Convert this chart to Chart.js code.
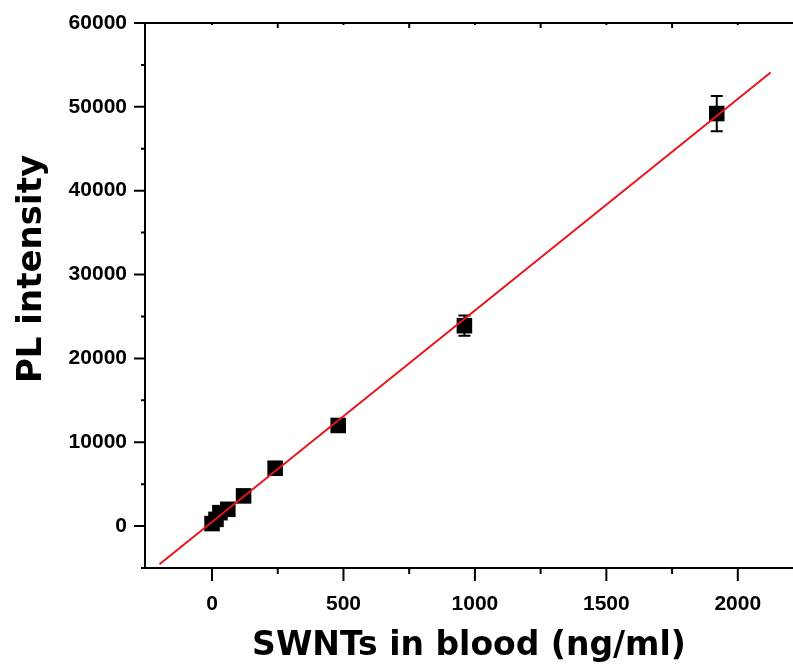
<!DOCTYPE html>
<html>
<head>
<meta charset="utf-8">
<script src="https://cdn.jsdelivr.net/npm/chart.js@4"></script>
<style>
  body { margin: 0; background: #fff; }
  #wrap { width: 793px; height: 669px; position: relative; }
</style>
</head>
<body>
<div id="wrap"><canvas id="plChart"></canvas></div>
<script>
// SWNT concentration (ng/ml) vs PL intensity
const concentration = [0, 15, 30, 60, 120, 240, 480, 960, 1920];
const plIntensity = [300, 800, 1600, 2000, 3600, 6900, 12000, 23900, 49200];
const plError = [200, 300, 300, 400, 500, 500, 400, 1200, 2100];

// linear fit, end points
const fitX = [-200, 2125];
const fitY = [-4550, 54100];

const xMajor = [0, 500, 1000, 1500, 2000];
const xMinor = [250, 750, 1250, 1750];
const yMajor = [0, 10000, 20000, 30000, 40000, 50000, 60000];
const yMinor = [-5000, 5000, 15000, 25000, 35000, 45000, 55000];

const xTitle = "SWNTs in blood (ng/ml)";
const yTitle = "PL intensity";

const tickFont = { family: "'Liberation Sans', Arial, sans-serif", size: 21, weight: "bold" };
const titleFont = { family: "'DejaVu Sans', sans-serif", size: 33, weight: "bold" };

// frame, tick marks, error bars, y title
const framePlugin = {
  id: "frame",
  beforeDatasetsDraw(chart) {
    const ctx = chart.ctx;
    const xs = chart.scales.x, ys = chart.scales.y;
    ctx.save();
    ctx.strokeStyle = "#000";
    ctx.lineWidth = 2;
    concentration.forEach((c, i) => {
      const px = xs.getPixelForValue(c);
      const top = ys.getPixelForValue(plIntensity[i] + plError[i]);
      const bot = ys.getPixelForValue(plIntensity[i] - plError[i]);
      ctx.beginPath();
      ctx.moveTo(px, top); ctx.lineTo(px, bot);
      ctx.moveTo(px - 6, top); ctx.lineTo(px + 6, top);
      ctx.moveTo(px - 6, bot); ctx.lineTo(px + 6, bot);
      ctx.stroke();
    });
    ctx.restore();
  },
  afterDraw(chart) {
    const ctx = chart.ctx;
    const a = chart.chartArea;
    const xs = chart.scales.x, ys = chart.scales.y;
    ctx.save();
    ctx.strokeStyle = "#000";
    ctx.lineWidth = 2;
    ctx.beginPath();
    ctx.moveTo(a.right + 2, a.top); ctx.lineTo(a.left, a.top);
    ctx.lineTo(a.left, a.bottom); ctx.lineTo(a.right + 2, a.bottom);
    ctx.stroke();

    ctx.beginPath();
    xMajor.forEach(v => {
      const p = xs.getPixelForValue(v);
      ctx.moveTo(p, a.bottom); ctx.lineTo(p, a.bottom + 13);
      ctx.moveTo(p, a.top); ctx.lineTo(p, a.top + 2);
    });
    xMinor.forEach(v => {
      const p = xs.getPixelForValue(v);
      ctx.moveTo(p, a.bottom); ctx.lineTo(p, a.bottom + 6);
      ctx.moveTo(p, a.top); ctx.lineTo(p, a.top + 5);
    });
    yMajor.forEach(v => {
      const p = ys.getPixelForValue(v);
      ctx.moveTo(a.left, p); ctx.lineTo(a.left - 11, p);
    });
    yMinor.forEach(v => {
      const p = ys.getPixelForValue(v);
      ctx.moveTo(a.left, p); ctx.lineTo(a.left - 4, p);
    });
    ctx.stroke();

    ctx.fillStyle = "#000";
    ctx.font = "bold 34px 'DejaVu Sans', sans-serif";
    ctx.textAlign = "center";
    ctx.textBaseline = "alphabetic";
    ctx.translate(41, 269);
    ctx.rotate(-Math.PI / 2);
    ctx.fillText(yTitle, 0, 0);
    ctx.restore();
  }
};

new Chart(document.getElementById("plChart"), {
  type: "scatter",
  data: {
    datasets: [
      {
        type: "line",
        label: "fit",
        data: fitX.map((x, i) => ({ x: x, y: fitY[i] })),
        borderColor: "#e8141c",
        borderWidth: 2,
        pointRadius: 0,
        fill: false,
      },
      {
        label: "PL",
        data: concentration.map((c, i) => ({ x: c, y: plIntensity[i] })),
        pointStyle: "rect",
        pointRadius: 11,
        pointHoverRadius: 11,
        backgroundColor: "#000",
        borderColor: "#000",
        borderWidth: 0,
      },
    ],
  },
  options: {
    responsive: true,
    maintainAspectRatio: false,
    animation: false,
    layout: { autoPadding: false, padding: { top: 23, right: 0, left: 0, bottom: 0 } },
    plugins: { legend: { display: false }, tooltip: { enabled: false } },
    scales: {
      x: {
        type: "linear",
        min: -255,
        max: 2210,
        afterBuildTicks: (s) => { s.ticks = xMajor.map(v => ({ value: v })); },
        afterFit: (s) => { s.height = 101; s.paddingLeft = 0; s.paddingRight = 0; },
        grid: { display: false, drawTicks: false },
        border: { display: false },
        ticks: { color: "#000", font: tickFont, padding: 24, maxRotation: 0, callback: (v) => String(v) },
        title: { display: true, text: xTitle, color: "#000", font: titleFont, padding: { top: 0, bottom: 3 } },
      },
      y: {
        type: "linear",
        min: -5000,
        max: 60000,
        afterBuildTicks: (s) => { s.ticks = yMajor.map(v => ({ value: v })); },
        afterFit: (s) => { s.width = 145; s.paddingTop = 0; s.paddingBottom = 0; },
        grid: { display: false, drawTicks: false },
        border: { display: false },
        ticks: { color: "#000", font: tickFont, padding: 18, callback: (v) => String(v) },
      },
    },
  },
  plugins: [framePlugin],
});
</script>
</body>
</html>
